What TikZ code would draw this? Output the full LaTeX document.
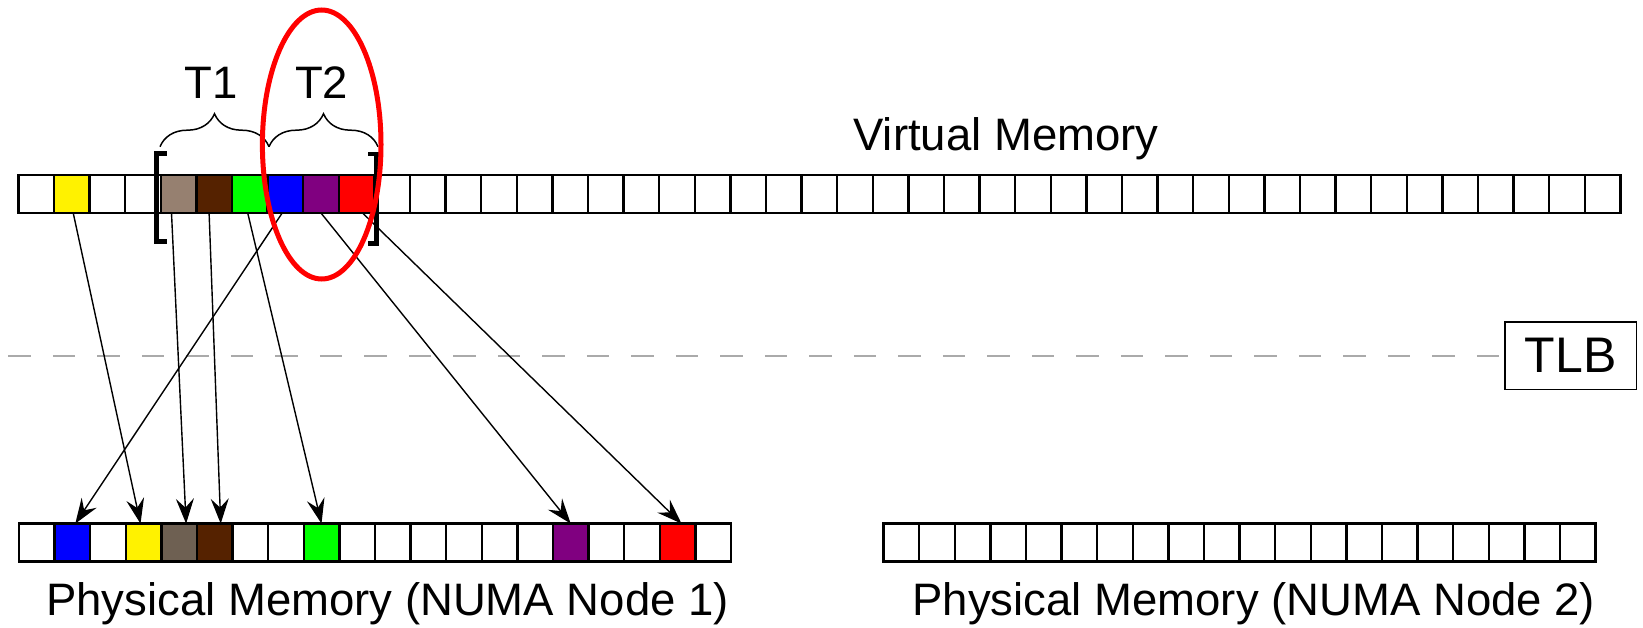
\documentclass[tikz,border=0pt]{standalone}
\usepackage{fontspec}
\setmainfont{Liberation Sans}
\usetikzlibrary{arrows.meta}
\usetikzlibrary{decorations.pathreplacing}
\definecolor{pagetan}{RGB}{150,128,112}
\definecolor{frametan}{RGB}{110,96,82}
\definecolor{pagebrown}{RGB}{85,34,0}
\definecolor{pagegreen}{RGB}{0,255,0}
\definecolor{pagepurple}{RGB}{128,0,128}
\definecolor{tlbgray}{RGB}{170,170,170}

\begin{document}
\begin{tikzpicture}[x=1pt,y=-1pt,
  cell/.style={draw,line width=2.4pt,minimum width=35.6pt,minimum height=38pt,inner sep=0pt,outer sep=0pt},
  mapto/.style={-{Stealth[length=25pt,width=18pt,inset=9pt]},line width=1.4pt},
  memlabel/.style={font=\fontsize{45.5}{50}\selectfont,anchor=base,inner sep=0pt}]
 \useasboundingbox (0,0) rectangle (1643,628);
 \foreach \i in {0,...,44} \node[cell] (v\i) at (36.1+35.6*\i,193.9) {};
 \foreach \i in {0,...,19} \node[cell] (p\i) at (36.7+35.6*\i,542.6) {};
 \foreach \i in {0,...,19} \node[cell] (q\i) at (901.3+35.6*\i,542.6) {};
 \foreach \i/\c in {1/yellow,4/pagetan,5/pagebrown,6/pagegreen,7/blue,8/pagepurple,9/red}
   \node[cell,fill=\c] at (v\i) {};
 \foreach \i/\c in {1/blue,3/yellow,4/frametan,5/pagebrown,8/pagegreen,15/pagepurple,18/red}
   \node[cell,fill=\c] at (p\i) {};
 \draw[line width=4.5pt] (166.7,153.3) -- (156.7,153.3) -- (156.7,241.7) -- (166.7,241.7);
 \draw[line width=4.5pt] (368.3,154) -- (376.7,154) -- (376.7,243.3) -- (368.3,243.3);
 \draw[line width=1.5pt,decorate,decoration={brace,amplitude=33pt}] (160,146.7) -- (269,146.7);
 \draw[line width=1.5pt,decorate,decoration={brace,amplitude=33pt}] (269,146.7) -- (378,146.7);
 \node[memlabel] (t1) at (211,99) {T1};
 \node[memlabel] (t2) at (321.7,99) {T2};
 \node[memlabel] (vmem) at (1006,150.7) {Virtual Memory};
 \node[memlabel] (pmem1) at (387.5,615) {Physical Memory (NUMA Node 1)};
 \node[memlabel] (pmem2) at (1253.8,615) {Physical Memory (NUMA Node 2)};
 \node[draw,line width=1.5pt,minimum width=131.5pt,minimum height=67.5pt,inner sep=0pt,
   font=\fontsize{50}{55}\selectfont] (tlb) at (1570.5,355.5) {TLB};
 \coordinate (tlbstart) at (8.3,355.5);
 \draw[tlbgray,line width=2pt,dash pattern=on 22.2pt off 22.3pt] (tlbstart) -- (tlb.west);
 \draw[mapto] ([xshift=1.5pt]v1.south) -- ([xshift=-3pt]p3.north);
 \draw[mapto] ([xshift=-7pt]v4.south) -- ([xshift=7pt]p4.north);
 \draw[mapto] ([xshift=-5pt]v5.south) -- ([xshift=6pt]p5.north);
 \draw[mapto] ([xshift=-2pt]v6.south) -- (p8.north);
 \draw[mapto] ([xshift=-3pt]v7.south) -- ([xshift=3pt]p1.north);
 \draw[mapto] (v8.south) -- (p15.north);
 \draw[mapto] ([xshift=6pt]v9.south) -- ([xshift=4pt]p18.north);
 \draw[red,line width=5pt] (321.7,144.5) ellipse [x radius=59.3pt,y radius=134.5pt];
\end{tikzpicture}
\end{document}
